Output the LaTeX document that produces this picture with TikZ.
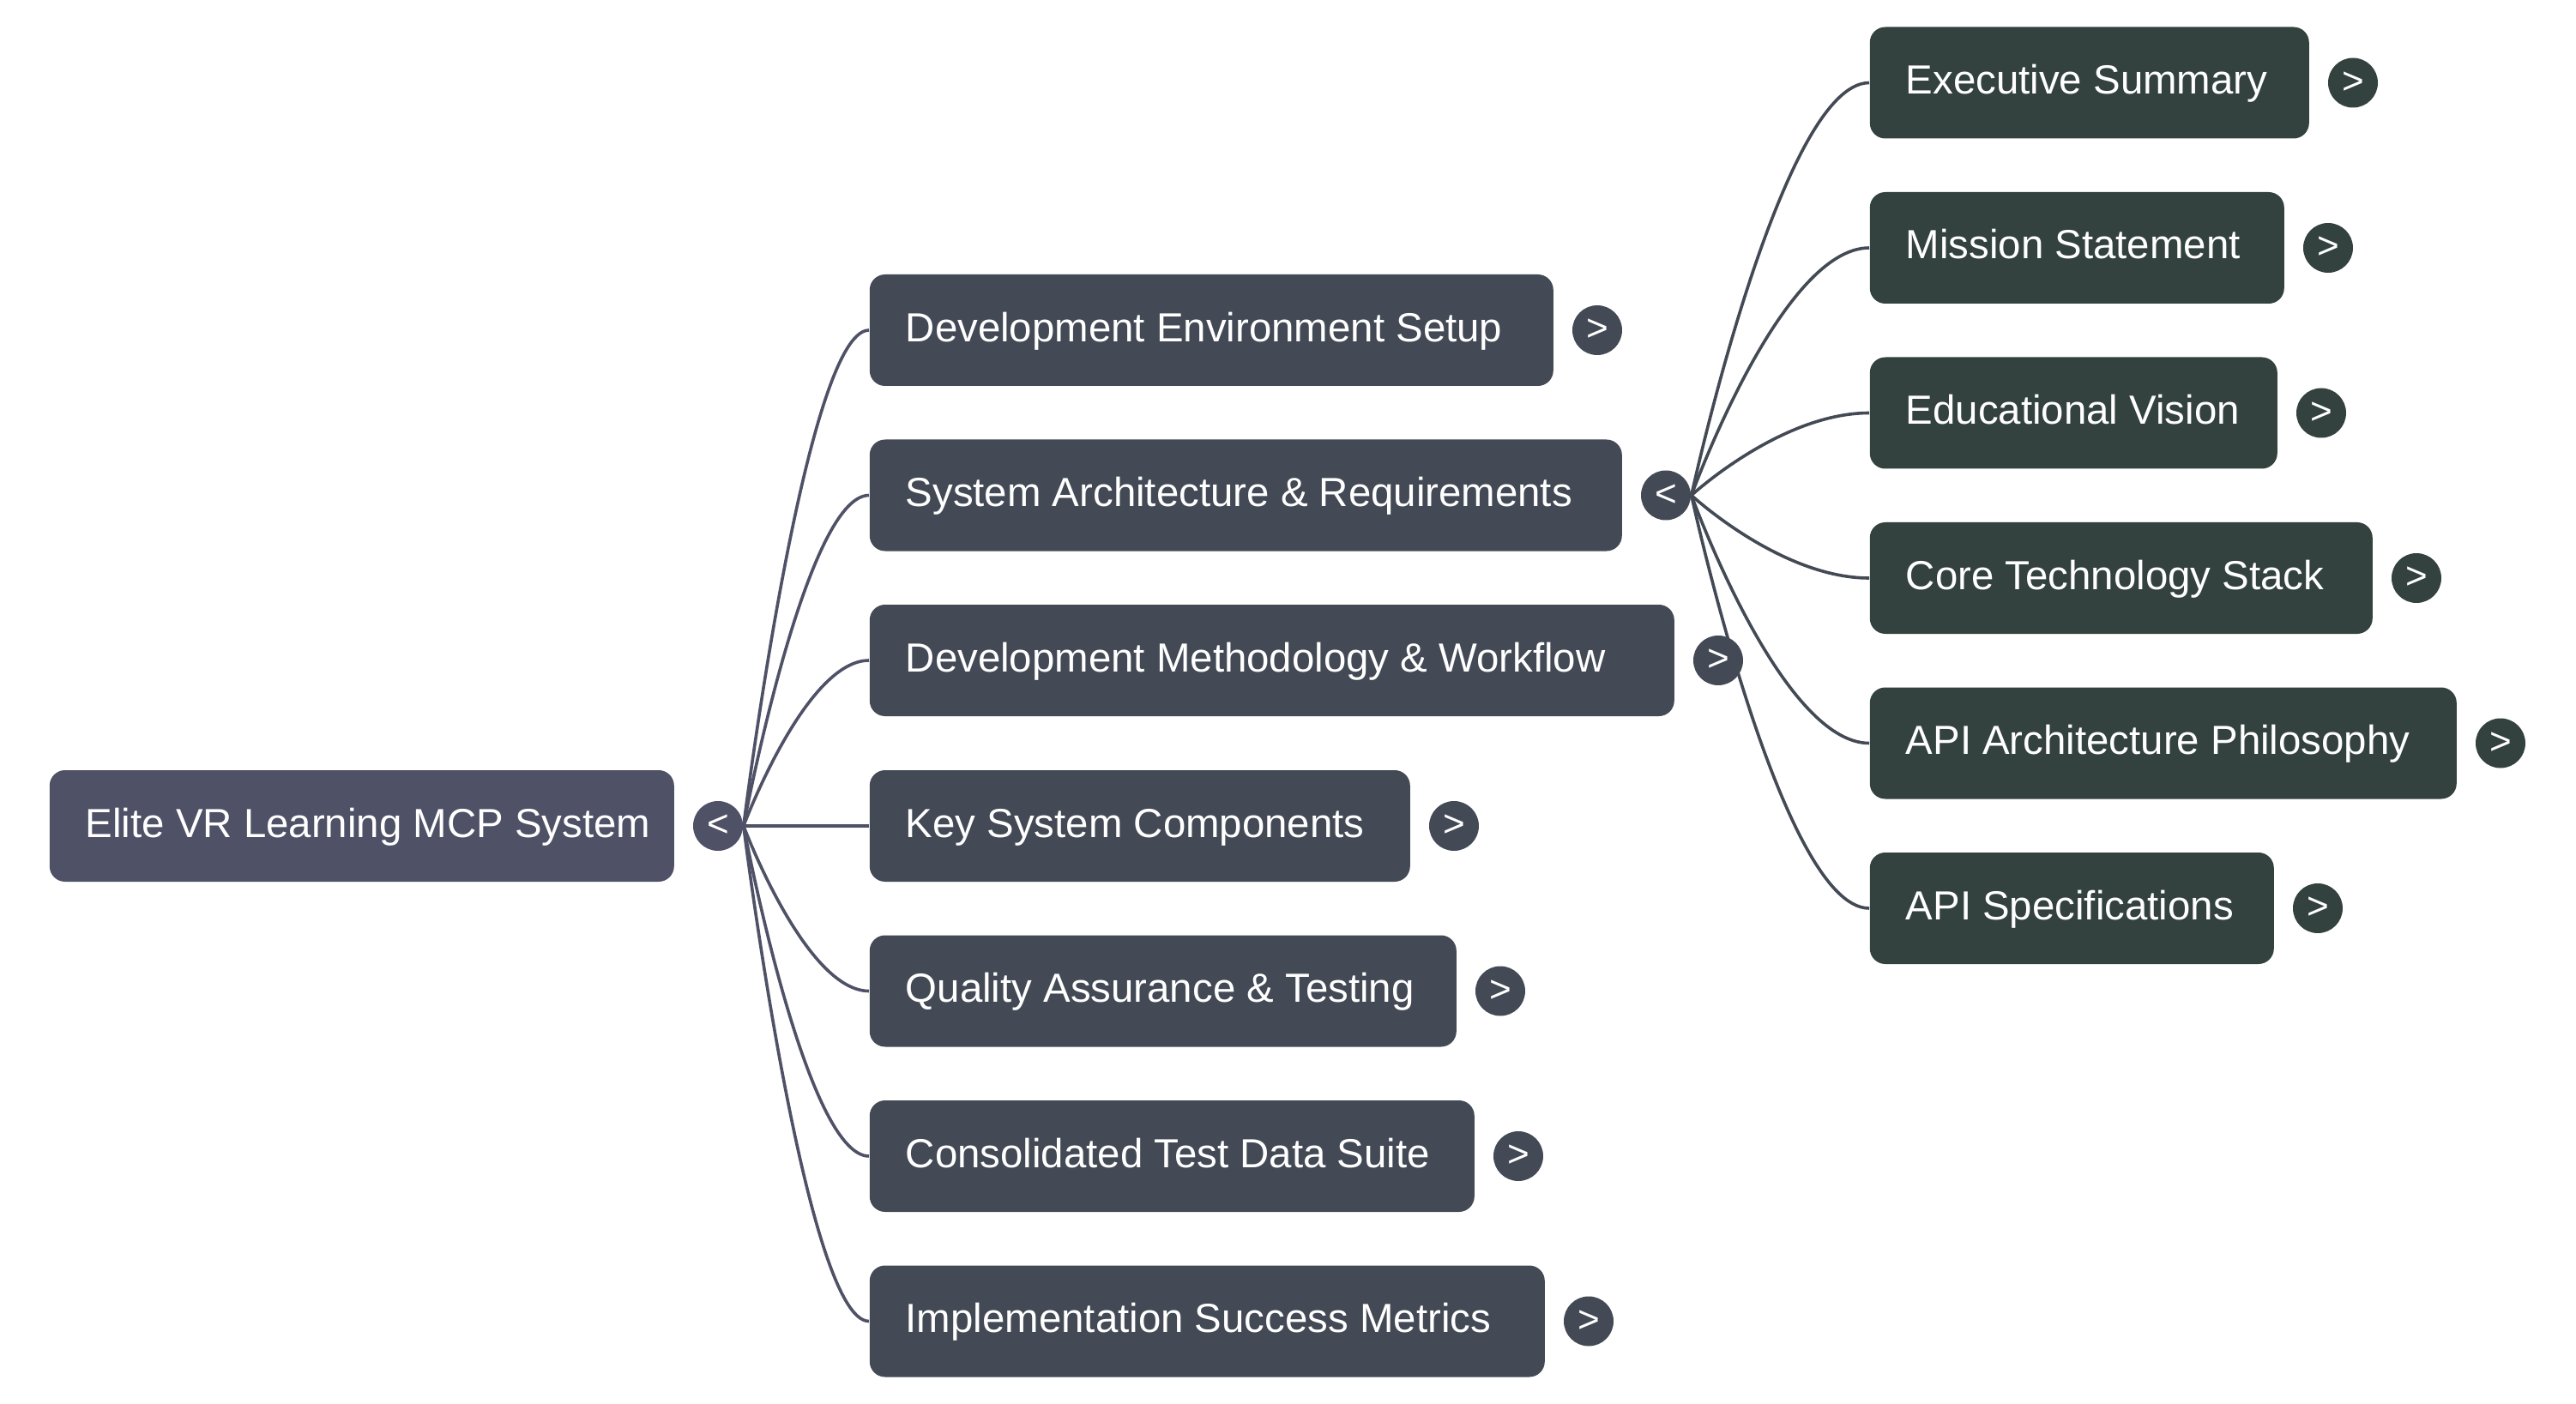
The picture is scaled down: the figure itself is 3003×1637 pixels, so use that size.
\documentclass[tikz,border=0pt]{standalone}
\usepackage{fontspec}
\setmainfont{Liberation Sans}
\usetikzlibrary{backgrounds}
\definecolor{rootc}{HTML}{4F5166}
\definecolor{lonec}{HTML}{434A55}
\definecolor{ltwoc}{HTML}{33423E}
\newcommand{\bt}[2]{\makebox[#1pt][l]{#2}}
\tikzset{
  box/.style={rounded corners=4.5pt, anchor=west, minimum height=32.5pt, inner xsep=10.5pt, inner ysep=0pt,
    text=white, font=\fontsize{11.85}{14}\selectfont, text height=6.5pt, text depth=0pt},
  rootbox/.style={box, fill=rootc},
  onebox/.style={box, fill=lonec},
  twobox/.style={box, fill=ltwoc},
  fold/.style={circle, minimum size=14.5pt, inner sep=0pt, text=white, font=\fontsize{11}{12}\selectfont},
  rootfold/.style={fold, fill=rootc},
  onefold/.style={fold, fill=lonec},
  twofold/.style={fold, fill=ltwoc},
  rootedge/.style={draw=rootc, line width=0.9pt},
  oneedge/.style={draw=lonec, line width=0.9pt},
}
\begin{document}
\begin{tikzpicture}[x=0.25pt, y=-0.25pt]
\useasboundingbox (0,0) rectangle (3003,1637);
% root
\node[rootbox] (root) at (57,963) {\bt{161}{Elite VR Learning MCP System}};
\node[rootfold] (rootf) at (837,963) {<};
% level 1
\node[onebox] (a1) at (1013,385) {\bt{178.25}{Development Environment Setup}};
\node[onebox] (a2) at (1013,577.5) {\bt{198.25}{System Architecture \& Requirements}};
\node[onebox] (a3) at (1013,770) {\bt{213.5}{Development Methodology \& Workflow}};
\node[onebox] (a4) at (1013,963) {\bt{136.5}{Key System Components}};
\node[onebox] (a5) at (1013,1155.5) {\bt{150}{Quality Assurance \& Testing}};
\node[onebox] (a6) at (1013,1348) {\bt{155.25}{Consolidated Test Data Suite}};
\node[onebox] (a7) at (1013,1540.5) {\bt{175.75}{Implementation Success Metrics}};
\node[onefold] (a1f) at (1862,385) {>};
\node[onefold] (a2f) at (1942,577.5) {<};
\node[onefold] (a3f) at (2003,770) {>};
\node[onefold] (a4f) at (1695,963) {>};
\node[onefold] (a5f) at (1749,1155.5) {>};
\node[onefold] (a6f) at (1770,1348) {>};
\node[onefold] (a7f) at (1852,1540.5) {>};
% level 2
\node[twobox] (b1) at (2179,96.5) {\bt{107}{Executive Summary}};
\node[twobox] (b2) at (2179,289) {\bt{99.75}{Mission Statement}};
\node[twobox] (b3) at (2179,481.5) {\bt{97.75}{Educational Vision}};
\node[twobox] (b4) at (2179,674) {\bt{125.5}{Core Technology Stack}};
\node[twobox] (b5) at (2179,866.5) {\bt{150}{API Architecture Philosophy}};
\node[twobox] (b6) at (2179,1059) {\bt{96.75}{API Specifications}};
\node[twofold] (b1f) at (2743,96.5) {>};
\node[twofold] (b2f) at (2714,289) {>};
\node[twofold] (b3f) at (2706,481.5) {>};
\node[twofold] (b4f) at (2817,674) {>};
\node[twofold] (b5f) at (2915,866.5) {>};
\node[twofold] (b6f) at (2702,1059) {>};
% edges
\begin{pgfonlayer}{background}
\fill[white] (0,0) rectangle (3003,1637);
\foreach \t in {a1,a2,a3,a5,a6,a7}
  \draw[rootedge] (rootf.east) .. controls (rootf.east) and +(-74,0) .. (\t.west);
\draw[rootedge] (rootf.east) -- (a4.west);
\foreach \t in {b1,b2,b3,b4,b5,b6}
  \draw[oneedge] (a2f.east) .. controls (a2f.east) and +(-103,0) .. (\t.west);
\end{pgfonlayer}
\end{tikzpicture}
\end{document}
